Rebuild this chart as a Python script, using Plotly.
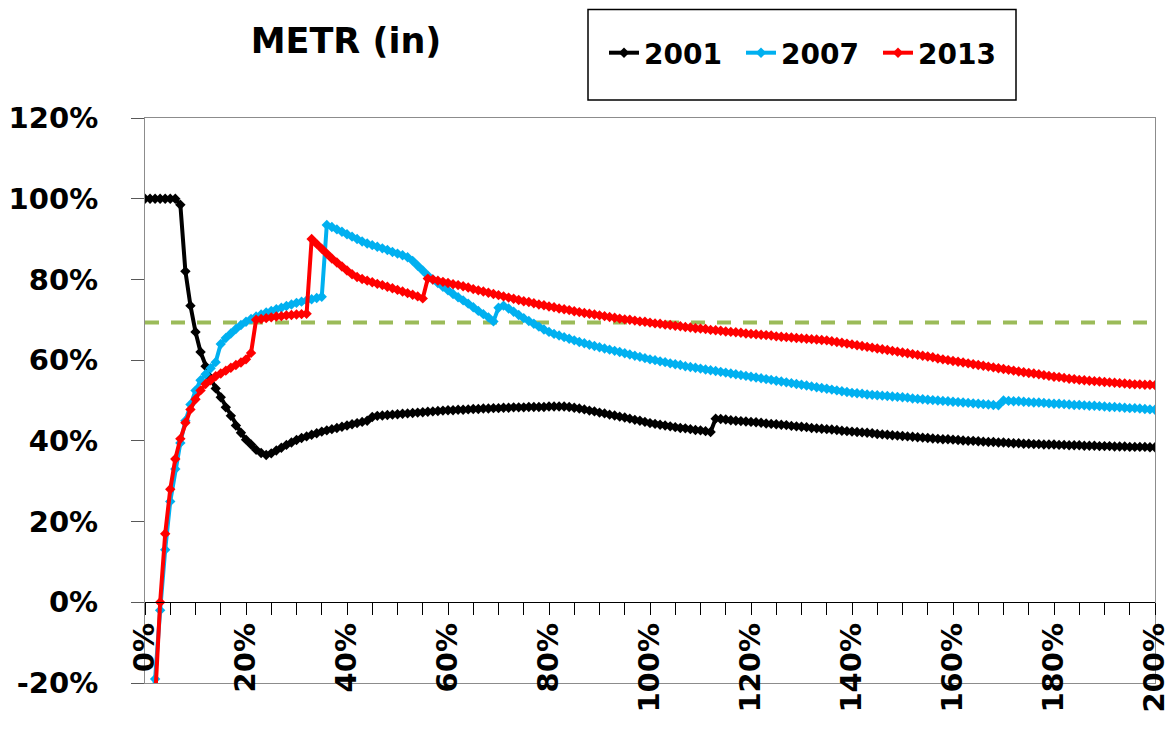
import plotly.graph_objects as go

# ---------------- data (percent) ----------------
income_pct = list(range(0, 201))  # x categories: 0% .. 200%

metr_2001 = [
    100, 100, 100, 100, 100, 100, 100, 98.5, 82, 73.5,
    67, 62, 58.5, 55.5, 53, 50.8, 48.3, 46.2, 43.8, 42,
    40.3, 39.1, 37.8, 37, 36.5, 36.9, 37.6, 38.3, 39, 39.6,
    40.2, 40.7, 41.1, 41.5, 41.9, 42.3, 42.6, 42.9, 43.2, 43.5,
    43.8, 44.1, 44.4, 44.7, 45, 45.9, 46.2, 46.3, 46.4, 46.5,
    46.6, 46.7, 46.8, 46.9, 47, 47.1, 47.2, 47.3, 47.4, 47.5,
    47.6, 47.6, 47.7, 47.7, 47.8, 47.9, 47.9, 48, 48, 48.1,
    48.1, 48.2, 48.2, 48.3, 48.3, 48.3, 48.4, 48.4, 48.4, 48.4,
    48.5, 48.5, 48.5, 48.5, 48.4, 48.2, 48, 47.8, 47.5, 47.3,
    47, 46.8, 46.5, 46.3, 46, 45.8, 45.5, 45.2, 45, 44.7,
    44.4, 44.2, 44, 43.8, 43.6, 43.4, 43.2, 43.1, 42.9, 42.7,
    42.6, 42.4, 42.2, 45.5, 45.4, 45.3, 45.1, 45, 44.9, 44.8,
    44.7, 44.6, 44.5, 44.3, 44.2, 44.1, 44, 43.9, 43.7, 43.6,
    43.5, 43.4, 43.2, 43.1, 43, 42.9, 42.8, 42.7, 42.5, 42.4,
    42.3, 42.2, 42.1, 42, 41.9, 41.7, 41.6, 41.5, 41.4, 41.3,
    41.2, 41.1, 41, 40.9, 40.8, 40.7, 40.6, 40.5, 40.4, 40.4,
    40.3, 40.2, 40.1, 40, 40, 39.9, 39.8, 39.7, 39.7, 39.6,
    39.6, 39.5, 39.4, 39.4, 39.3, 39.3, 39.2, 39.2, 39.1, 39.1,
    39.1, 39, 39, 38.9, 38.9, 38.9, 38.8, 38.8, 38.8, 38.7,
    38.7, 38.7, 38.6, 38.6, 38.6, 38.5, 38.5, 38.5, 38.5, 38.4,
    38.4,
]

metr_2007 = [
    -40, -30, -19, -2, 13, 25, 33, 39.5, 45, 49,
    52.5, 55, 56.5, 58, 59.5, 64, 65.5, 66.6, 67.7, 68.7,
    69.5, 70.2, 70.8, 71.3, 71.8, 72.2, 72.6, 73, 73.4, 73.8,
    74.2, 74.5, 74.8, 75.1, 75.4, 75.7, 93.5, 93, 92.4, 91.8,
    91.2, 90.6, 90, 89.4, 88.9, 88.5, 88.1, 87.7, 87.3, 86.8,
    86.4, 86, 85.5, 84.6, 83.4, 82.2, 81, 80, 79.1, 78.2,
    77.3, 76.4, 75.6, 74.8, 74, 73.1, 72.2, 71.4, 70.6, 69.6,
    73, 73.5, 72.8, 72, 71.2, 70.4, 69.7, 69, 68.3, 67.6,
    67, 66.5, 66.1, 65.7, 65.3, 64.9, 64.5, 64.2, 63.8, 63.5,
    63.2, 62.9, 62.6, 62.3, 62, 61.7, 61.4, 61.1, 60.8, 60.5,
    60.2, 60, 59.7, 59.5, 59.2, 59, 58.8, 58.5, 58.3, 58.1,
    57.9, 57.7, 57.5, 57.3, 57.1, 56.9, 56.7, 56.5, 56.3, 56.1,
    55.9, 55.7, 55.5, 55.3, 55.1, 54.9, 54.7, 54.5, 54.3, 54.1,
    53.9, 53.7, 53.5, 53.3, 53.1, 52.9, 52.7, 52.5, 52.3, 52.1,
    51.9, 51.8, 51.7, 51.5, 51.4, 51.3, 51.2, 51.1, 51, 50.9,
    50.8, 50.7, 50.5, 50.4, 50.3, 50.2, 50.1, 50, 49.9, 49.8,
    49.7, 49.6, 49.5, 49.4, 49.3, 49.2, 49.1, 49, 48.9, 48.8,
    50, 49.9, 49.8, 49.8, 49.7, 49.6, 49.5, 49.5, 49.4, 49.3,
    49.2, 49.2, 49.1, 49, 48.9, 48.9, 48.8, 48.7, 48.7, 48.6,
    48.5, 48.4, 48.4, 48.3, 48.2, 48.1, 48.1, 48, 47.9, 47.8,
    47.7,
]

metr_2013 = [
    -40, -32, -24, 0, 17, 28, 35.5, 40.5, 44.5, 47.8,
    50.3, 52.5, 54.1, 55, 56, 56.7, 57.4, 58.1, 58.8, 59.4,
    60.2, 61.8, 70, 70.2, 70.4, 70.6, 70.8, 70.9, 71.1, 71.2,
    71.3, 71.4, 71.5, 90, 88.8, 87.6, 86.4, 85.2, 84.2, 83.2,
    82.2, 81.3, 80.6, 80.1, 79.7, 79.3, 78.9, 78.6, 78.2, 77.8,
    77.4, 77, 76.6, 76.2, 75.8, 75.3, 80.2, 80, 79.7, 79.4,
    79.1, 78.8, 78.6, 78.3, 78, 77.6, 77.3, 77, 76.7, 76.4,
    76.1, 75.8, 75.5, 75.2, 74.9, 74.6, 74.4, 74.1, 73.8, 73.6,
    73.3, 73.1, 72.8, 72.6, 72.4, 72.1, 71.9, 71.7, 71.5, 71.3,
    71.1, 70.9, 70.7, 70.5, 70.3, 70.1, 70, 69.8, 69.6, 69.5,
    69.3, 69.1, 69, 68.8, 68.7, 68.5, 68.4, 68.2, 68.1, 67.9,
    67.8, 67.7, 67.5, 67.4, 67.3, 67.1, 67, 66.9, 66.8, 66.6,
    66.5, 66.4, 66.3, 66.2, 66.1, 65.9, 65.8, 65.7, 65.6, 65.5,
    65.4, 65.3, 65.2, 65.1, 65, 64.9, 64.7, 64.5, 64.3, 64.1,
    63.9, 63.7, 63.5, 63.3, 63.1, 62.9, 62.7, 62.5, 62.3, 62.1,
    61.9, 61.7, 61.5, 61.3, 61.1, 60.9, 60.7, 60.4, 60.2, 60,
    59.8, 59.6, 59.4, 59.2, 59, 58.8, 58.6, 58.4, 58.2, 58,
    57.8, 57.6, 57.4, 57.2, 57, 56.8, 56.7, 56.5, 56.3, 56.1,
    55.9, 55.8, 55.6, 55.4, 55.3, 55.1, 55, 54.9, 54.8, 54.7,
    54.6, 54.5, 54.4, 54.3, 54.2, 54.1, 54, 54, 53.9, 53.9,
    53.8,
]

reference_rate = 69.3  # dashed green line

series_names = ["2001", "2007", "2013"]
series_colors = ["#000000", "#00B0F0", "#FF0000"]

y_tick_values = [-20, 0, 20, 40, 60, 80, 100, 120]
y_tick_labels = ["-20%", "0%", "20%", "40%", "60%", "80%", "100%", "120%"]

# ---------------- figure ----------------
OFF = 8  # page body margin of the html page
VW, VH = 1175, 729
W, H = VW - OFF, VH - OFF
PL, PR, PT, PB = 145, 1155, 118, 683   # plot area in page pixels
ML, MR, MT, MB = PL - OFF, VW - PR, PT - OFF, VH - PB
PW, PH = PR - PL, PB - PT
YMIN, YMAX = -20, 120

FONT = "DejaVu Sans"

fig = go.Figure()
for name, vals, col in zip(series_names, [metr_2001, metr_2007, metr_2013], series_colors):
    fig.add_trace(go.Scatter(
        x=income_pct, y=vals, name=name, mode="lines+markers",
        line=dict(color=col, width=4),
        marker=dict(symbol="diamond", size=8, color=col),
    ))


def px_x(p):
    return (p - PL) / PW


def px_y(p):
    return (PB - p) / PH


zero_pos = (0 - YMIN) / (YMAX - YMIN)

fig.update_layout(
    width=W, height=H,
    margin=dict(l=ML, r=MR, t=MT, b=MB, autoexpand=False),
    paper_bgcolor="white", plot_bgcolor="white",
    font=dict(family=FONT, color="black"),
    title=dict(text="METR (in)", x=(346 - OFF) / W, xanchor="center", xref="container",
               y=1 - (41 - OFF) / H, yanchor="middle", yref="container",
               font=dict(family=FONT, size=35, weight="bold", color="black")),
    showlegend=True,
    legend=dict(orientation="h", x=px_x(604), xanchor="left", y=px_y(53), yanchor="middle",
                bgcolor="rgba(0,0,0,0)", borderwidth=0,
                font=dict(family=FONT, size=28, weight="bold", color="black"),
                itemwidth=30, tracegroupgap=0,
                entrywidth=92, entrywidthmode="pixels"),
    xaxis=dict(range=[0, 200], showgrid=False, zeroline=False,
               showline=True, linecolor="#8c8c8c", linewidth=1, mirror=True,
               ticks="", showticklabels=False),
    xaxis2=dict(range=[0, 200], overlaying="x", matches="x", anchor="free", position=zero_pos,
                side="bottom", showgrid=False, zeroline=False,
                showline=True, linecolor="black", linewidth=1.2,
                tickmode="linear", tick0=0, dtick=20, ticks="outside", ticklen=12,
                tickcolor="black", ticksuffix="%", tickangle=-90, ticklabelstandoff=-4,
                tickfont=dict(family=FONT, size=29, weight="bold", color="black"),
                minor=dict(dtick=5, ticks="outside", ticklen=12, tickcolor="black")),
    yaxis=dict(range=[YMIN, YMAX], showgrid=False, zeroline=False,
               showline=True, linecolor="#8c8c8c", linewidth=1, mirror=True,
               tickmode="array", tickvals=y_tick_values, ticktext=y_tick_labels,
               ticks="outside", ticklen=13,
               tickcolor="#595959", ticklabelstandoff=27,
               tickfont=dict(family=FONT, size=29, weight="bold", color="black")),
    shapes=[
        dict(type="line", xref="paper", x0=0, x1=1, yref="y", y0=reference_rate, y1=reference_rate,
             line=dict(color="#9BBB59", width=4, dash="14px,12px"), layer="below"),
        dict(type="rect", xref="paper", yref="paper",
             x0=px_x(588), x1=px_x(1016), y0=px_y(100), y1=px_y(9.5),
             line=dict(color="black", width=1.5), fillcolor="rgba(0,0,0,0)"),
    ],
)

# invisible helper so the overlaying axis is rendered
fig.add_trace(go.Scatter(x=[0, 200], y=[None, None], xaxis="x2", showlegend=False,
                         hoverinfo="skip", mode="lines"))

fig.write_html("out.html")
